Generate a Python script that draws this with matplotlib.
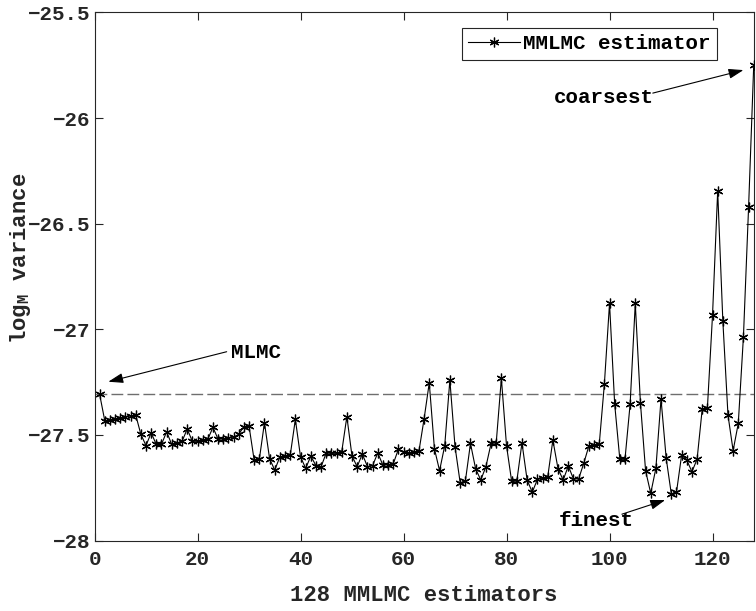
import matplotlib
matplotlib.use("Agg")
import matplotlib.pyplot as plt
import numpy as np

plt.rcParams['font.family'] = ['Liberation Mono', 'DejaVu Sans Mono']
plt.rcParams['font.weight'] = 'bold'
plt.rcParams['mathtext.fontset'] = 'custom'
plt.rcParams['mathtext.rm'] = 'Liberation Mono:bold'
plt.rcParams['mathtext.it'] = 'Liberation Mono:bold'
plt.rcParams['mathtext.bf'] = 'Liberation Mono:bold'

estimators = list(range(1, 129))
log_variance = [
    -27.308, -27.433, -27.428, -27.424, -27.419, -27.414, -27.410, -27.405,
    -27.497, -27.550, -27.490, -27.545, -27.545, -27.485, -27.545, -27.540,
    -27.530, -27.472, -27.530, -27.530, -27.525, -27.520, -27.464, -27.520,
    -27.518, -27.514, -27.510, -27.497, -27.460, -27.457, -27.619, -27.616,
    -27.442, -27.613, -27.666, -27.603, -27.600, -27.597, -27.426, -27.603,
    -27.658, -27.600, -27.645, -27.650, -27.585, -27.587, -27.587, -27.580,
    -27.413, -27.600, -27.650, -27.590, -27.650, -27.645, -27.585, -27.643,
    -27.640, -27.637, -27.568, -27.582, -27.585, -27.582, -27.576, -27.423,
    -27.253, -27.565, -27.669, -27.551, -27.240, -27.555, -27.726, -27.720,
    -27.540, -27.660, -27.713, -27.650, -27.540, -27.537, -27.232, -27.551,
    -27.720, -27.718, -27.537, -27.713, -27.771, -27.710, -27.704, -27.698,
    -27.524, -27.660, -27.713, -27.647, -27.708, -27.708, -27.634, -27.551,
    -27.548, -27.545, -27.259, -26.877, -27.354, -27.615, -27.615, -27.354,
    -26.877, -27.347, -27.669, -27.776, -27.658, -27.330, -27.610, -27.780,
    -27.771, -27.595, -27.619, -27.674, -27.615, -27.377, -27.374, -26.932,
    -26.345, -26.959, -27.406, -27.574, -27.445, -27.035, -26.423, -25.750,
]
mlmc_level = -27.305

xticks = [0, 20, 40, 60, 80, 100, 120]
yticks = [-28, -27.5, -27, -26.5, -26, -25.5]
ytick_labels = ['\u221228', '\u221227.5', '\u221227', '\u221226.5', '\u221226', '\u221225.5']

fig = plt.figure(figsize=(7.56, 6.11), dpi=100)
ax = fig.add_axes([0.125, 0.1152, 0.872, 0.8645])

ax.plot([0, 128], [mlmc_level, mlmc_level], color='#6e6e6e', lw=1.0,
        linestyle=(0, (8.5, 3)), zorder=2)
ax.plot(estimators, log_variance, color='black', lw=0.8,
        marker=(6, 2, 0), markersize=7, markeredgewidth=0.9,
        label='MMLMC estimator', zorder=3)

ax.set_xlim(0, 128)
ax.set_ylim(-28, -25.5)
ax.set_xticks(xticks)
ax.set_yticks(yticks)
ax.set_yticklabels(ytick_labels)
ax.tick_params(direction='in', length=6, width=0.8, top=True, right=True,
               labelsize=15, colors='#262626')
ax.tick_params(axis='x', pad=7)
ax.tick_params(axis='y', pad=3)
for s in ax.spines.values():
    s.set_linewidth(0.8)
    s.set_color('#262626')

ax.set_xlabel('128 MMLMC estimators', fontsize=16, fontweight='bold', color='#262626')
ax.xaxis.set_label_coords(0.5, -0.084)
ax.set_ylabel(r'log$_{\mathrm{M}}$ variance', fontsize=16, fontweight='bold', color='#262626')
ax.yaxis.set_label_coords(-0.093, 0.535)

leg = ax.legend(loc='upper right', bbox_to_anchor=(0.9445, 0.970),
                fontsize=15, frameon=True, fancybox=False, framealpha=1,
                edgecolor='#262626', handlelength=2.5, handletextpad=0.15,
                borderpad=0.3, borderaxespad=0)
leg.get_frame().set_linewidth(0.8)

ap = dict(arrowstyle='-|>,head_length=0.9,head_width=0.3', color='black',
          lw=0.8, shrinkA=0, shrinkB=0)
ax.text(26.6, -27.112, 'MLMC', fontsize=15, fontweight='bold', va='center', ha='left')
ax.annotate('', xy=(2.68, -27.248), xytext=(25.66, -27.106), arrowprops=ap)

ax.text(89.1, -25.901, 'coarsest', fontsize=15, fontweight='bold', va='center', ha='left')
ax.annotate('', xy=(126.0, -25.773), xytext=(108.4, -25.882), arrowprops=ap)

ax.text(90.06, -27.9025, 'finest', fontsize=15, fontweight='bold', va='center', ha='left')
ax.annotate('', xy=(110.8, -27.808), xytext=(102.4, -27.875), arrowprops=ap)

fig.savefig('out.png', dpi=100)
